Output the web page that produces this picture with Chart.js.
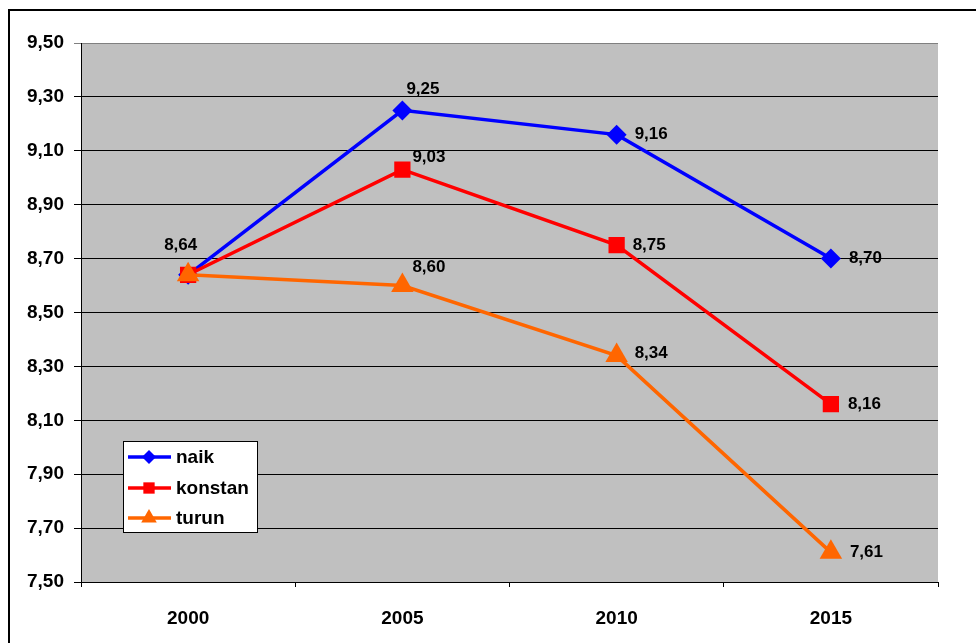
<!DOCTYPE html>
<html>
<head>
<meta charset="utf-8">
<script src="https://cdn.jsdelivr.net/npm/chart.js@4/dist/chart.umd.min.js"></script>
<style>
  html, body { margin: 0; padding: 0; background: #fff; }
  #wrap { width: 976px; height: 643px; position: relative; }
</style>
</head>
<body>
<div id="wrap"><canvas id="chart-skenario"></canvas></div>
<script>
// Data
var tahun = ['2000', '2005', '2010', '2015'];
var naik = [8.64, 9.25, 9.16, 8.70];
var konstan = [8.64, 9.03, 8.75, 8.16];
var turun = [8.64, 8.60, 8.34, 7.61];
var namaSeri = ['naik', 'konstan', 'turun'];

var FONT = '"Liberation Sans", Arial, sans-serif';
var fmt = function (v) { return v.toFixed(2).replace('.', ','); };

// label placement relative to each point (null = no label)
var labelOffset = [
    [null, [4, -21], [18, 0], [18, 0]],
    [null, [10, -12], [16, 0], [17, 0]],
    [[-24, -29], [10, -18], [18, -2], [19, 0]]
];

var canv = document.getElementById('chart-skenario');
var context = canv.getContext('2d');

function drawMarker(ctx, style, x, y, r, color) {
    ctx.save();
    ctx.fillStyle = color;
    ctx.beginPath();
    if (style === 'rectRot') {
        ctx.moveTo(x, y - r); ctx.lineTo(x + r, y); ctx.lineTo(x, y + r); ctx.lineTo(x - r, y);
    } else if (style === 'rect') {
        var s = r * Math.SQRT1_2;
        ctx.rect(x - s, y - s, 2 * s, 2 * s);
    } else {
        ctx.moveTo(x, y - r);
        ctx.lineTo(x + r * 0.866, y + r * 0.5);
        ctx.lineTo(x - r * 0.866, y + r * 0.5);
    }
    ctx.closePath();
    ctx.fill();
    ctx.restore();
}

// frame, value labels and the legend box
var extras = {
    id: 'extras',
    beforeDraw: function (chart) {
        var ctx = chart.ctx;
        ctx.save();
        ctx.strokeStyle = '#000';
        ctx.lineWidth = 2;
        ctx.strokeRect(9, 10, 1200, 900);
        ctx.restore();
    },
    afterDatasetsDraw: function (chart) {
        var ctx = chart.ctx;
        ctx.save();
        ctx.font = 'bold 17px ' + FONT;
        ctx.fillStyle = '#000';
        ctx.textAlign = 'left';
        ctx.textBaseline = 'middle';
        chart.data.datasets.forEach(function (ds, d) {
            var meta = chart.getDatasetMeta(d);
            meta.data.forEach(function (pt, i) {
                var off = labelOffset[d][i];
                if (!off) return;
                ctx.fillText(fmt(ds.data[i]), pt.x + off[0], pt.y + off[1]);
            });
        });

        // legend
        var bx = 123, by = 441, bw = 134, bh = 91;
        ctx.fillStyle = '#fff';
        ctx.fillRect(bx, by, bw, bh);
        ctx.strokeStyle = '#000';
        ctx.lineWidth = 1;
        ctx.strokeRect(bx + 0.5, by + 0.5, bw, bh);
        ctx.font = 'bold 19px ' + FONT;
        var rows = [457, 488, 518];
        var sizes = [7, 8, 9];
        chart.data.datasets.forEach(function (ds, d) {
            var y = rows[d];
            ctx.strokeStyle = ds.borderColor;
            ctx.lineWidth = 3.5;
            ctx.beginPath();
            ctx.moveTo(128, y);
            ctx.lineTo(171, y);
            ctx.stroke();
            drawMarker(ctx, ds.pointStyle, 149, y, sizes[d], ds.borderColor);
            ctx.fillStyle = '#000';
            ctx.fillText(ds.label, 176, y + 1);
        });
        ctx.restore();
    }
};

var plotBg = {
    id: 'plotBg',
    beforeDraw: function (chart) {
        var a = chart.chartArea;
        chart.ctx.save();
        chart.ctx.fillStyle = '#c0c0c0';
        chart.ctx.fillRect(a.left, a.top, a.right - a.left, a.bottom - a.top);
        chart.ctx.restore();
    }
};

var seri = [naik, konstan, turun];
var warna = ['#0000ff', '#ff0000', '#ff6600'];
var bentuk = ['rectRot', 'rect', 'triangle'];
var radius = [10, 11.5, 13];

// later series are painted on top
var datasets = seri.map(function (s, i) {
    return {
        label: namaSeri[i],
        data: s,
        order: seri.length - i,
        borderColor: warna[i],
        backgroundColor: warna[i],
        borderWidth: 3.5,
        pointStyle: bentuk[i],
        pointRadius: radius[i],
        pointHoverRadius: radius[i],
        pointBorderWidth: 0,
        tension: 0
    };
});

var chart1 = new Chart(context, {
    type: 'line',
    data: { labels: tahun, datasets: datasets },
    plugins: [plotBg, extras],
    options: {
        responsive: true,
        maintainAspectRatio: false,
        animation: false,
        layout: { padding: { left: 0, top: 43, right: 38, bottom: 0 } },
        plugins: { legend: { display: false }, tooltip: { enabled: false } },
        scales: {
            x: {
                offset: true,
                afterFit: function (s) { s.height = 61; },
                grid: { offset: true, drawOnChartArea: false, color: '#000', tickLength: 5 },
                border: { color: '#000', width: 1 },
                ticks: { color: '#000', padding: 20, font: { family: FONT, size: 19, weight: 'bold' } }
            },
            y: {
                min: 7.5,
                max: 9.5,
                afterFit: function (s) { s.width = 81; },
                grid: {
                    color: function (c) { return c.tick && c.tick.value >= 9.49 ? '#808080' : '#000'; },
                    tickLength: 7
                },
                border: { color: '#000', width: 1 },
                ticks: {
                    stepSize: 0.2,
                    color: '#000',
                    padding: 10,
                    font: { family: FONT, size: 19, weight: 'bold' },
                    callback: function (v) { return fmt(v); }
                }
            }
        }
    }
});
</script>
</body>
</html>
